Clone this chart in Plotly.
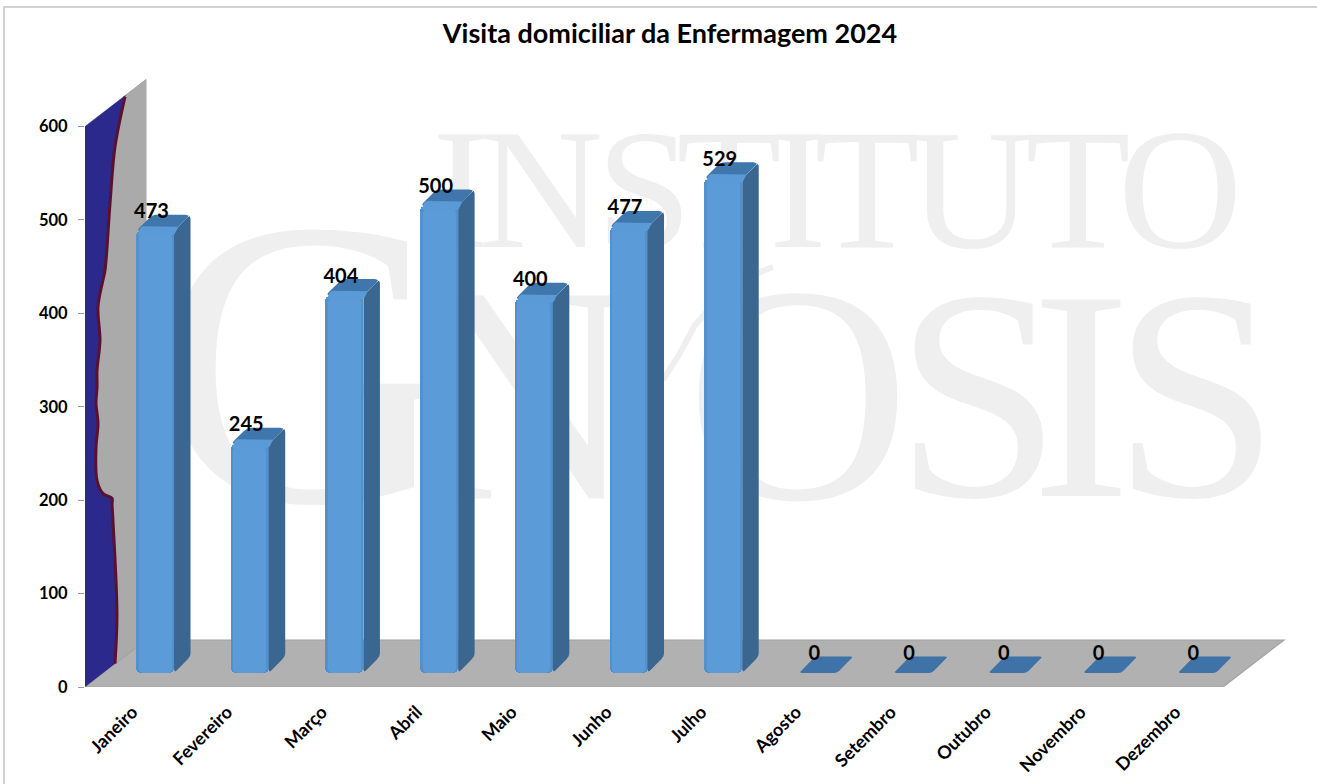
import plotly.graph_objects as go

months = ["Janeiro", "Fevereiro", "Março", "Abril", "Maio", "Junho", "Julho",
          "Agosto", "Setembro", "Outubro", "Novembro", "Dezembro"]
visits = [473, 245, 404, 500, 400, 477, 529, 0, 0, 0, 0, 0]
y_ticks = [0, 100, 200, 300, 400, 500, 600]
title_text = "Visita domiciliar da Enfermagem 2024"

# decorative series lying on the left wall (category units, axis units)
wall_curve_x = [-0.078, -0.184, -0.236, -0.289, -0.31, -0.363, -0.342, -0.373, -0.373, -0.384,
                -0.363, -0.384, -0.373, -0.31, -0.215, -0.215, -0.205, -0.163, -0.184]
wall_curve_y = [632, 578, 518, 446, 436, 407, 371, 339, 321, 304,
                282, 256, 221, 207, 202, 196, 178, 78, 25]

# watermark letters
wm_top = list("INSTITUTO")
wm_top_px = [461, 541, 644, 729, 798, 867, 971, 1078, 1180]
wm_low = list("GNOSIS")
wm_low_px = [305, 525, 798, 978, 1081, 1196]
wm_low_size = [410, 310, 310, 300, 300, 300]
wm_low_py = [318, 360, 360, 362, 362, 362]
wm_swoosh_px = [773, 745, 720, 695, 680, 663]
wm_swoosh_py = [267, 278, 297, 325, 353, 380]

# pixel frame of the plot area
W, H = 1317, 784
L, R, T, B = 85, 1300, 60, 687
SX = 1138 / 12          # px per category
SY = 560.5 / 600        # px per axis unit
X0, X1 = -0.5, -0.5 + (R - L) / SX
Y0, Y1 = 0, (B - T) / SY

def xp(px):
    return (px - L) / SX - 0.5

def yp(py):
    return (B - py) / SY

def px_paper(px):
    return (px - L) / (R - L)

def py_paper(py):
    return (B - py) / (B - T)

# 3D box geometry
FLOOR_DX, FLOOR_DY = 61 / SX, 47 / SY
BAR_W = 38 / SX
BAR_SHIFT = 22.6 / SX
BAR_BASE = 14 / SY
DX, DY = 16.5 / SX, 16.5 / SY
cx = [i * 94.7 / SX + BAR_SHIFT for i in range(len(months))]


def rounded(pts, r):
    """Round polygon corners; pts in axis units, radius r in pixels."""
    P = [(x * SX, y * SY) for x, y in pts]
    out = []
    n = len(P)
    for i in range(n):
        a, b, c = P[i - 1], P[i], P[(i + 1) % n]
        def toward(p, q):
            d = ((q[0] - p[0]) ** 2 + (q[1] - p[1]) ** 2) ** 0.5
            k = min(r, d / 2) / d if d else 0
            return (p[0] + (q[0] - p[0]) * k, p[1] + (q[1] - p[1]) * k)
        s, e = toward(b, a), toward(b, c)
        for t in (0, 0.25, 0.5, 0.75, 1):
            x = (1 - t) ** 2 * s[0] + 2 * t * (1 - t) * b[0] + t ** 2 * e[0]
            y = (1 - t) ** 2 * s[1] + 2 * t * (1 - t) * b[1] + t ** 2 * e[1]
            out.append((x / SX, y / SY))
    return out


def multi(polys):
    xs, ys = [], []
    for p in polys:
        xs += [q[0] for q in p] + [p[0][0], None]
        ys += [q[1] for q in p] + [p[0][1], None]
    return xs, ys


def path(pts):
    return "M " + " L ".join(f"{x:.4f},{y:.3f}" for x, y in pts) + " Z"


shapes = []
# back wall and floor
shapes.append(dict(type="path", layer="below", xref="x", yref="y", fillcolor="#AAAAAA",
                   line=dict(color="#A4A4A4", width=1),
                   path=path([(X0, 0), (X0, 600), (X0 + FLOOR_DX, 600 + FLOOR_DY), (X0 + FLOOR_DX, FLOOR_DY)])))
shapes.append(dict(type="path", layer="below", xref="x", yref="y", fillcolor="#B1B1B1",
                   line=dict(color="#A2A2A2", width=1.2),
                   path=path([(X0, 0), (11.5, 0), (11.5 + FLOOR_DX, FLOOR_DY), (X0 + FLOOR_DX, FLOOR_DY)])))


def wm(letter, px, py, size):
    half_x, half_y = 2 / SX, 2 / SY
    return dict(type="rect", layer="below", xref="x", yref="y",
                x0=xp(px) - half_x, x1=xp(px) + half_x, y0=yp(py) - half_y, y1=yp(py) + half_y,
                line=dict(width=0), fillcolor="rgba(0,0,0,0)",
                label=dict(text=letter, textposition="middle center", xanchor="center", yanchor="middle",
                           font=dict(family="Liberation Serif", size=size, color="#EFEFEF")))


for ch, px in zip(wm_top, wm_top_px):
    shapes.append(wm(ch, px, 170, 172))
for ch, px, size, py in zip(wm_low, wm_low_px, wm_low_size, wm_low_py):
    shapes.append(wm(ch, px, py, size))
shapes.append(dict(type="path", layer="below", xref="x", yref="y", line=dict(color="#EFEFEF", width=6),
                   path="M " + " L ".join(f"{xp(a):.4f},{yp(b):.3f}" for a, b in zip(wm_swoosh_px, wm_swoosh_py))))

# page frame
shapes.append(dict(type="line", xref="paper", yref="paper", x0=px_paper(4), x1=px_paper(4),
                   y0=py_paper(6), y1=py_paper(784), line=dict(color="#D2D2D2", width=2)))
shapes.append(dict(type="line", xref="paper", yref="paper", x0=px_paper(4), x1=px_paper(1317),
                   y0=py_paper(7), y1=py_paper(7), line=dict(color="#D2D2D2", width=2)))

fig = go.Figure()

# front faces
nz_x = [c for c, v in zip(cx, visits) if v > 0]
nz_v = [v for v in visits if v > 0]
fig.add_bar(x=nz_x, y=nz_v, base=BAR_BASE, width=BAR_W, marker=dict(color="#5490CB", line=dict(width=0)),
            hoverinfo="skip", name="edge")
fig.add_bar(x=nz_x, y=[v - 3 for v in nz_v], base=BAR_BASE, width=BAR_W - 5 / SX,
            marker=dict(color="#5B9BD8", line=dict(width=0)), hoverinfo="skip", name="Visitas")

# sides and tops
sides, tops, bevels, flats = [], [], [], []
for c, v in zip(cx, visits):
    xl, xr = c - BAR_W / 2, c + BAR_W / 2
    top = BAR_BASE + v
    if v > 0:
        sides.append(rounded([(xr, BAR_BASE), (xr + DX, BAR_BASE + DY), (xr + DX, top + DY), (xr, top)], 4))
        tops.append(rounded([(xl, top), (xl + DX, top + DY), (xr + DX, top + DY), (xr, top)], 5))
        k = 0.3
        bevels.append(rounded([(xl + 1 / SX, top - 4 / SY), (xl + DX * k, top + DY * k), (xr + DX * k, top + DY * k), (xr, top - 4 / SY)], 3))
    else:
        flats.append(rounded([(xl, top), (xl + DX, top + DY), (xr + DX, top + DY), (xr, top)], 3))

for polys, colour in ((sides, "#3A6690"), (tops, "#3F76AC"), (bevels, "#5A9AD6"), (flats, "#3F72A6")):
    xs, ys = multi(polys)
    fig.add_scatter(x=xs, y=ys, mode="lines", fill="toself", fillcolor=colour,
                    line=dict(width=0, color=colour), hoverinfo="skip", showlegend=False)

# wall series
fig.add_scatter(x=[X0, X0, X0 + FLOOR_DX * 0.68] + wall_curve_x + [X0],
                y=[0, 600, 600 + FLOOR_DY * 0.68] + wall_curve_y + [0],
                mode="lines", fill="toself", fillcolor="#2B2A8C", line=dict(width=0, color="#2B2A8C"),
                hoverinfo="skip", showlegend=False)
fig.add_scatter(x=wall_curve_x, y=wall_curve_y, mode="lines", line=dict(color="#5C1030", width=3, shape="spline"),
                hoverinfo="skip", showlegend=False)

# value labels
fig.add_scatter(x=[c - 3.5 / SX for c in cx], y=[BAR_BASE + v + 18 / SY for v in visits],
                text=[str(v) for v in visits], mode="text", textposition="middle center",
                textfont=dict(family="Lato", size=20, color="#000000", weight="bold"),
                hoverinfo="skip", showlegend=False)

fig.update_layout(
    width=W, height=H, showlegend=False, barmode="overlay", bargap=0, barcornerradius=5,
    paper_bgcolor="#FFFFFF", plot_bgcolor="#FFFFFF",
    margin=dict(l=L, r=W - R, t=T, b=H - B, pad=0, autoexpand=False),
    title=dict(text=title_text, x=670 / W, y=1 - 34 / H, xanchor="center", yanchor="middle", xref="container", yref="container",
               font=dict(family="Lato", size=27, color="#000000", weight="bold")),
    xaxis=dict(range=[X0, X1], tickvals=list(range(len(months))), ticktext=months, tickangle=-45,
               showgrid=False, zeroline=False, showline=False, ticks="", ticklabelstandoff=10,
               tickfont=dict(family="Lato", size=18, color="#000000", weight="bold")),
    yaxis=dict(range=[Y0, Y1], tickvals=y_ticks, showgrid=False, zeroline=False, showline=False,
               ticks="outside", ticklen=6, tickcolor="#999999", tickwidth=1, ticklabelstandoff=7,
               tickfont=dict(family="Lato", size=16.5, color="#000000", weight="bold")),
    shapes=shapes,
)

fig.write_html("out.html", config=dict(displayModeBar=False),
               post_script="document.body.style.margin='0';document.body.style.overflow='hidden';")
